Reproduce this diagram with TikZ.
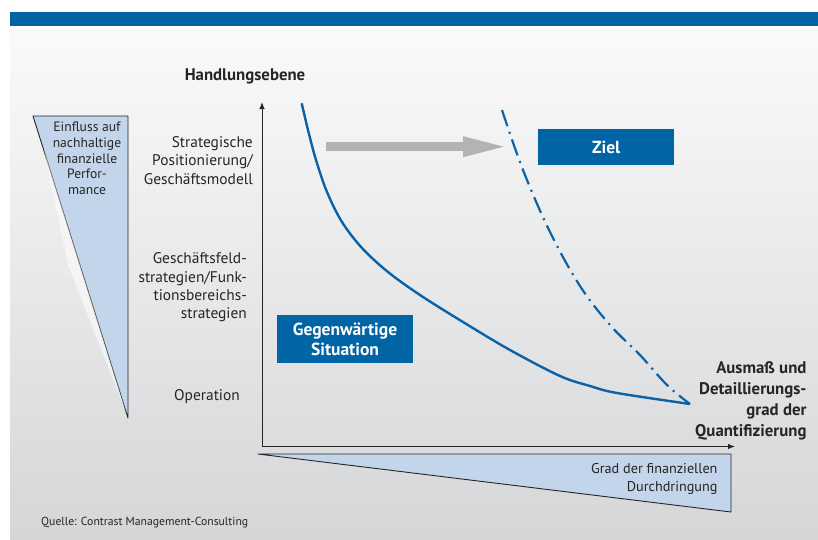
\documentclass[tikz,border=0pt]{standalone}
\usepackage{fontspec}
\setmainfont{PT Sans}
\usetikzlibrary{arrows.meta, positioning, calc}

\definecolor{bandblue}{HTML}{0064A5}
\definecolor{curveblue}{HTML}{0A62A8}
\definecolor{wedgeblue}{HTML}{C3D5EA}
\definecolor{paneltop}{HTML}{FAFAFA}
\definecolor{panelbottom}{HTML}{D5D6D8}
\definecolor{arrowgray}{HTML}{B3B3B5}
\definecolor{inkgray}{HTML}{252525}

\begin{document}
\begin{tikzpicture}[
    x=1pt, y=-1pt,
    level/.style={font=\fontsize{15.4}{18.3}\selectfont, align=right,
        anchor=base east, text=inkgray, inner sep=0pt},
    heading/.style={font=\bfseries\fontsize{16.8}{21}\selectfont,
        text=inkgray, inner sep=0pt},
    wedgetext/.style={font=\fontsize{13.6}{15.7}\selectfont,
        text=inkgray, inner sep=0pt},
    bluebox/.style={fill=bandblue, text=white, align=center, inner sep=0pt,
        font=\bfseries\fontsize{17.5}{20}\selectfont},
    axis/.style={draw=inkgray, line width=1pt, -{Latex[length=7pt,width=5.5pt]}},
    wedge/.style={fill=wedgeblue, draw=inkgray, line width=0.9pt, line join=round},
    curve/.style={draw=curveblue, line width=2.4pt}
]
    % page, panel and top band
    \useasboundingbox (0,0) rectangle (818,539);
    \fill[white] (0,0) rectangle (818,539);
    \shade[top color=paneltop, bottom color=panelbottom] (10,29) rectangle (818,539);
    \fill[bandblue] (10,12) rectangle (818,26);

    % influence wedge on the left
    \path[wedge] (33,116) -- (128,116) -- (128,418) -- cycle;
    \fill[white, opacity=0.55] (44,150) -- (126,412) -- (68,265) -- cycle;
    \node[wedgetext, align=center, anchor=base] (impact) at (87,194.5)
        {Einfluss auf\\nachhaltige\\finanzielle\\Perfor-\\mance};

    % penetration wedge below the x axis
    \path[wedge] (258,454) -- (731,454) -- (731,512) -- cycle;
    \node[wedgetext, align=right, anchor=base east,
        font=\fontsize{14.2}{18.3}\selectfont] (depth) at (717.7,491.7)
        {Grad der finanziellen\\Durchdringung};

    % axes
    \coordinate (origin) at (262,446.5);
    \coordinate (ytop) at (262,102);
    \coordinate (xend) at (735,446.5);
    \draw[axis] (origin) -- (ytop);
    \draw[axis] (origin) -- (xend);

    \node[heading, anchor=base] (yname) at (245,80.7) {Handlungsebene};
    \node[heading, align=right, anchor=base east] (xname) at (806.7,436.7)
        {Ausmaß und\\Detaillierungs-\\grad der\\Quantifizierung};

    % levels of action
    \node[level] (strategy) at (253,184)
        {Strategische\\Positionierung/\\Geschäftsmodell};
    \node[level] (business) at (247,318.7)
        {Geschäftsfeld-\\strategien/Funk-\\tionsbereichs-\\strategien};
    \node[level] (operation) at (240,400.7) {Operation};

    % current and target curves
    \draw[curve] plot[smooth, tension=0.55] coordinates {
        (301.7,103.3) (308,130) (316,160) (327,192) (342,222) (362,248)
        (388,272) (420,295) (463,322) (510,350) (560,376) (590,386)
        (617,393) (690,404)};
    \draw[curve, line width=2.2pt, dash pattern=on 17pt off 6pt on 2pt off 6pt]
        plot[smooth, tension=0.6] coordinates {
        (502,110) (523,170) (550,232) (580,286) (610,325) (640,355)
        (667,385) (690,404)};

    % shift towards the target
    \coordinate (shiftstart) at (326,146.7);
    \coordinate (shiftend) at (509,146.7);
    \draw[arrowgray, line width=8.7pt, -{Triangle[length=46pt,width=18pt]}]
        (shiftstart) -- (shiftend);

    \node[bluebox, minimum width=136.6pt, minimum height=47.7pt] (current)
        at (345,339) {Gegenwärtige\\Situation};
    \node[bluebox, minimum width=135.7pt, minimum height=35.7pt] (goal)
        at (606.2,147) {Ziel};

    \node[anchor=base west, inner sep=0pt, text=inkgray,
        font=\fontsize{11.7}{13}\selectfont] (source) at (41,525.7)
        {Quelle: Contrast Management-Consulting};
\end{tikzpicture}
\end{document}
